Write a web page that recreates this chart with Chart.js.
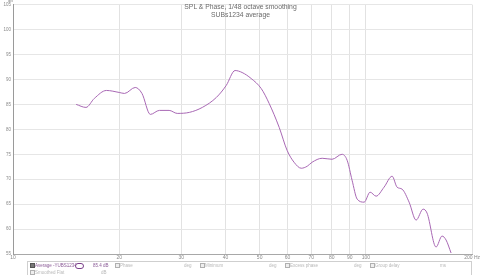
<!DOCTYPE html>
<html>
<head>
<meta charset="utf-8">
<script src="https://cdn.jsdelivr.net/npm/chart.js@4"></script>
<style>
body { margin: 0; background: #fff; font-family: "Liberation Sans", Arial, sans-serif; }
#wrap { position: relative; width: 481px; height: 275px; overflow: hidden; }
#title { position: absolute; left: 0; top: 3px; width: 481px; text-align: center; font-size: 6.8px; line-height: 8px; color: #6a6a6a; }
#unit { position: absolute; left: 8px; top: -2px; font-size: 4px; color: #888; }
#legend { position: absolute; left: 27px; top: 261px; width: 445px; height: 20px; border: 1px solid #cfcfcf; box-sizing: border-box; }
#legend span { position: absolute; font-size: 4.5px; line-height: 5px; color: #b8b8b8; white-space: nowrap; }
#legend .cb { width: 3px; height: 3px; border: 1px solid #b0b0b0; background: #eee; }
#legend .on { background: #777; border-color: #555; }
#legend .sw { width: 7px; height: 4px; border: 1px solid #7a3f8a; border-radius: 3px; background: #fff; }
</style>
</head>
<body>
<div id="wrap">
  <canvas id="splChart" width="481" height="275"></canvas>
  <div id="unit">dB</div>
  <div id="title">SPL &amp; Phase, 1/48 octave smoothing<br>SUBs1234 average</div>
  <div id="legend">
    <span class="cb on" style="left:2px;top:1px"></span>
    <span style="left:7px;top:1px;color:#8a5a96">Average -YUBS1234</span>
    <span class="sw" style="left:47px;top:1px"></span>
    <span style="left:65px;top:1px;color:#8a5a96">85.4 dB</span>
    <span class="cb" style="left:87px;top:1px"></span>
    <span style="left:92px;top:1px">Phase</span>
    <span style="left:156px;top:1px">deg</span>
    <span class="cb" style="left:172px;top:1px"></span>
    <span style="left:177px;top:1px">Minimum</span>
    <span style="left:241px;top:1px">deg</span>
    <span class="cb" style="left:257px;top:1px"></span>
    <span style="left:262px;top:1px">Excess phase</span>
    <span style="left:326px;top:1px">deg</span>
    <span class="cb" style="left:342px;top:1px"></span>
    <span style="left:347px;top:1px">Group delay</span>
    <span style="left:412px;top:1px">ms</span>
    <span class="cb" style="left:2px;top:8px"></span>
    <span style="left:7px;top:8px">Smoothed Flat</span>
    <span style="left:73px;top:8px">dB</span>
  </div>
</div>
<script>
// Frequency response data (Hz / dB)
const freqs = [15.1, 16.1, 17.0, 18.4, 20.0, 20.7, 22.2, 23.2, 24.5, 26.0, 27.7, 29.2, 31.6, 34.4, 37.7, 40.2,
  42.6, 44.6, 47.3, 50.5, 53.2, 56.8, 59.8, 62.6, 65.6, 68.2, 70.4, 75.2, 80.2, 85.6, 88.5, 91.4, 94.5, 98.9,
  102.8, 106.9, 112.6, 118.7, 122.6, 126.7, 132.6, 138.8, 145.3, 149.1, 158.1, 164.4, 168.8, 174.4];
const spl = [85.0, 84.4, 86.2, 87.8, 87.4, 87.2, 88.4, 87.2, 83.0, 83.8, 83.8, 83.2, 83.4, 84.4, 86.4, 88.8,
  91.8, 91.4, 90.2, 88.2, 85.2, 80.4, 75.8, 73.4, 72.2, 72.6, 73.4, 74.2, 74.0, 75.0, 73.8, 69.8, 66.0, 65.4,
  67.4, 66.6, 68.4, 70.6, 68.4, 68.0, 65.4, 61.8, 64.0, 63.2, 56.4, 58.6, 57.8, 55.2];

const xTicks = [10, 20, 30, 40, 50, 60, 70, 80, 90, 100, 200];
const xLabels = ['10', '20', '30', '40', '50', '60', '70', '80', '90', '100', '200 Hz'];
const yTicks = [55, 60, 65, 70, 75, 80, 85, 90, 95, 100, 105];

const ctx = document.getElementById('splChart').getContext('2d');
new Chart(ctx, {
    type: 'line',
    data: {
        datasets: [{
            label: 'Average -YUBS1234',
            data: freqs.map((f, i) => ({ x: f, y: spl[i] })),
            borderColor: '#a868b4',
            borderWidth: 1,
            pointRadius: 0,
            fill: false,
            tension: 0.4,
            cubicInterpolationMode: 'monotone'
        }]
    },
    options: {
        responsive: false,
        animation: false,
        devicePixelRatio: 1,
        layout: { padding: { top: 4, right: 8, bottom: 13, left: 0 } },
        plugins: { legend: { display: false }, tooltip: { enabled: false } },
        scales: {
            x: {
                type: 'logarithmic',
                min: 10,
                max: 200,
                afterBuildTicks: s => { s.ticks = xTicks.map(v => ({ value: v })); },
                afterFit: s => { s.height = 8; },
                grid: { color: '#e2e2e2', drawTicks: false },
                border: { color: '#a8a8a8' },
                ticks: {
                    autoSkip: false,
                    maxRotation: 0,
                    padding: 1,
                    color: '#8a8a8a',
                    font: { size: 5, family: 'Liberation Sans' },
                    callback: (v) => xLabels[xTicks.indexOf(v)]
                }
            },
            y: {
                min: 55,
                max: 105,
                afterBuildTicks: s => { s.ticks = yTicks.map(v => ({ value: v })); },
                afterFit: s => { s.width = 13; },
                grid: { color: '#e6e6e6', drawTicks: false },
                border: { color: '#9a9a9a' },
                ticks: {
                    padding: 2,
                    color: '#8a8a8a',
                    font: { size: 4.5, family: 'Liberation Sans' }
                }
            }
        }
    }
});
</script>
</body>
</html>
